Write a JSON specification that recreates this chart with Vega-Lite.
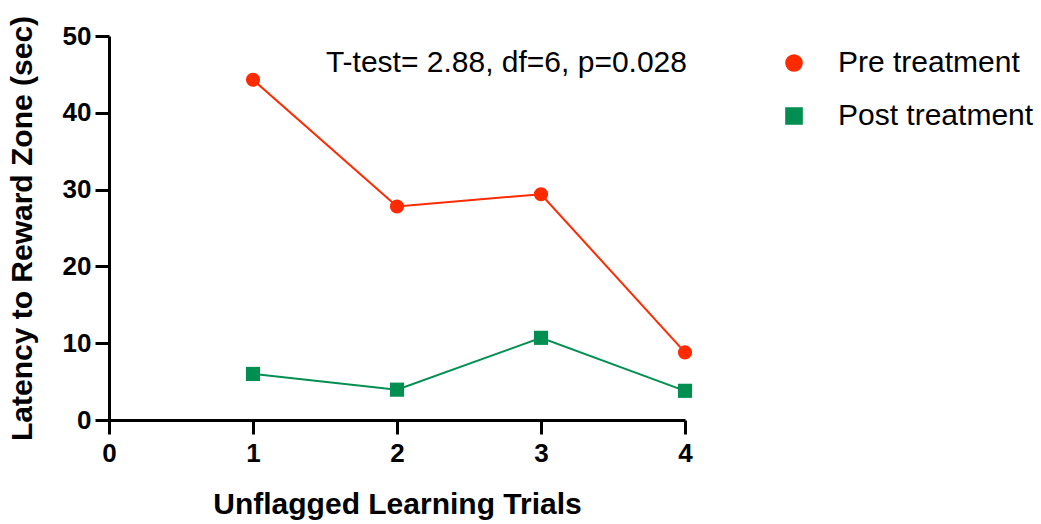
{
  "$schema": "https://vega.github.io/schema/vega-lite/v6.json",
  "autosize": {"type": "none"},
  "padding": {"left": 109, "top": 36, "right": 356, "bottom": 104},
  "width": 576,
  "height": 384,
  "background": "white",
  "config": {
    "view": {"stroke": null},
    "font": "Liberation Sans",
    "axis": {
      "grid": false,
      "domainColor": "black",
      "domainWidth": 3,
      "tickColor": "black",
      "tickWidth": 3,
      "tickSize": 14,
      "labelFont": "Liberation Sans",
      "labelFontSize": 26,
      "labelFontWeight": "bold",
      "labelColor": "black",
      "titleFont": "Liberation Sans",
      "titleFontSize": 30,
      "titleFontWeight": "bold",
      "titleColor": "black"
    },
    "legend": {
      "title": null,
      "orient": "none",
      "legendX": 670,
      "legendY": 12,
      "padding": 0,
      "symbolSize": 260,
      "symbolOffset": 0,
      "labelOffset": 29,
      "labelFont": "Liberation Sans",
      "labelFontSize": 30,
      "labelColor": "black",
      "labelLimit": 400,
      "rowPadding": 23
    }
  },
  "data": {
    "values": [
      {"trial": 1, "latency": 44.3, "group": "Pre treatment"},
      {"trial": 2, "latency": 27.8, "group": "Pre treatment"},
      {"trial": 3, "latency": 29.4, "group": "Pre treatment"},
      {"trial": 4, "latency": 8.8, "group": "Pre treatment"},
      {"trial": 1, "latency": 6.0, "group": "Post treatment"},
      {"trial": 2, "latency": 3.95, "group": "Post treatment"},
      {"trial": 3, "latency": 10.7, "group": "Post treatment"},
      {"trial": 4, "latency": 3.8, "group": "Post treatment"}
    ]
  },
  "layer": [
    {
      "mark": {"type": "line", "strokeWidth": 2},
      "encoding": {
        "x": {
          "field": "trial", "type": "quantitative",
          "scale": {"domain": [0, 4], "nice": false, "zero": false},
          "axis": {"values": [0, 1, 2, 3, 4], "format": "d", "labelPadding": 6, "title": "Unflagged Learning Trials", "titlePadding": 23, "labelFlush": false}
        },
        "y": {
          "field": "latency", "type": "quantitative",
          "scale": {"domain": [0, 50], "nice": false},
          "axis": {"values": [0, 10, 20, 30, 40, 50], "format": "d", "labelPadding": 4, "title": "Latency to Reward Zone (sec)", "titlePadding": 25}
        },
        "color": {
          "field": "group", "type": "nominal",
          "scale": {"domain": ["Pre treatment", "Post treatment"], "range": ["#ff2a00", "#008f51"]}
        }
      }
    },
    {
      "mark": {"type": "point", "filled": true, "opacity": 1, "size": 200},
      "encoding": {
        "x": {"field": "trial", "type": "quantitative"},
        "y": {"field": "latency", "type": "quantitative"},
        "color": {
          "field": "group", "type": "nominal",
          "scale": {"domain": ["Pre treatment", "Post treatment"], "range": ["#ff2a00", "#008f51"]}
        },
        "shape": {
          "field": "group", "type": "nominal",
          "scale": {"domain": ["Pre treatment", "Post treatment"], "range": ["circle", "square"]}
        }
      }
    },
    {
      "data": {"values": [{"trial": 4, "latency": 45.3, "label": "T-test= 2.88, df=6, p=0.028"}]},
      "mark": {"type": "text", "align": "right", "baseline": "alphabetic", "fontSize": 30, "font": "Liberation Sans", "color": "black", "dx": 2},
      "encoding": {
        "x": {"field": "trial", "type": "quantitative"},
        "y": {"field": "latency", "type": "quantitative"},
        "text": {"field": "label"}
      }
    }
  ]
}
